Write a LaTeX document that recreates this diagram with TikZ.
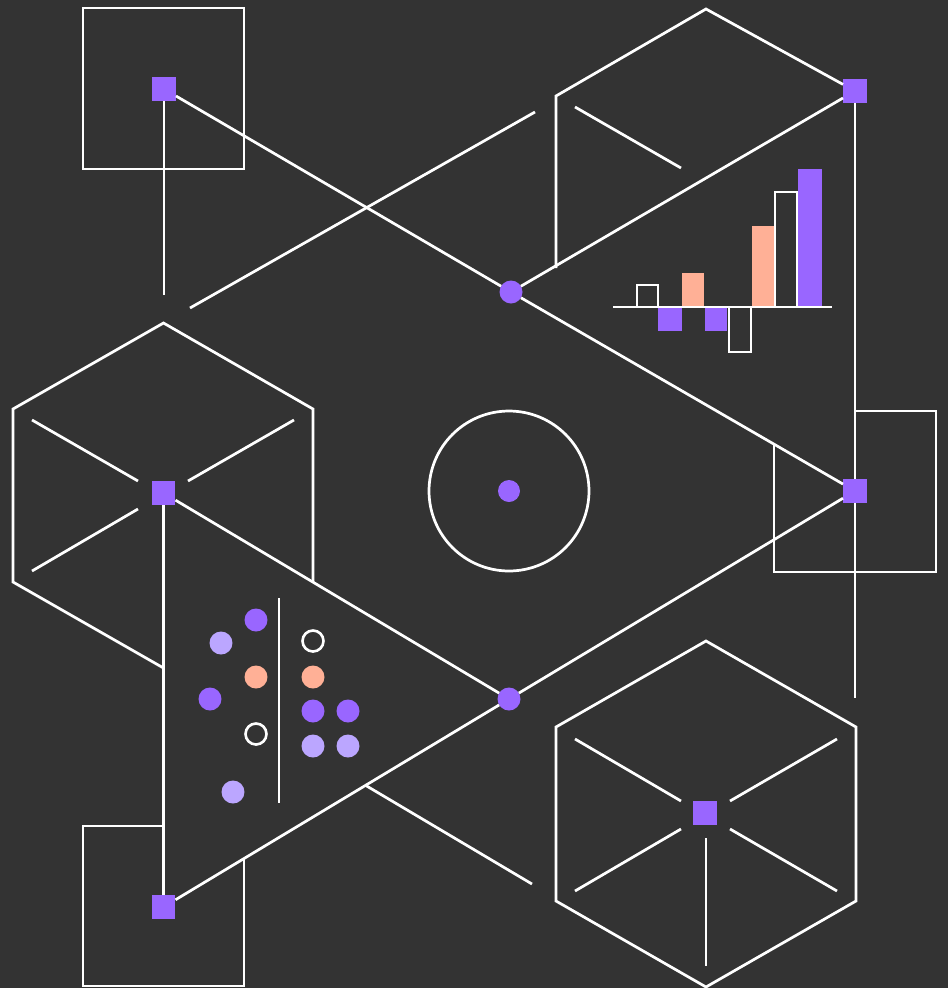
\documentclass[tikz,border=0pt]{standalone}
\definecolor{bg}{HTML}{333333}
\definecolor{pur}{HTML}{9966FF}
\definecolor{lpur}{HTML}{BBA6FF}
\definecolor{peach}{HTML}{FFB096}
\begin{document}
\begin{tikzpicture}[x=0.02cm,y=-0.02cm,
  ln/.style={draw=white,line width=1.55pt},
  sq/.style={rectangle,fill=pur,minimum size=0.48cm,inner sep=0pt,outer sep=0pt},
  dot/.style={circle,fill=pur,minimum size=0.46cm,inner sep=0pt,outer sep=0pt},
  pdot/.style={circle,fill=pur,minimum size=0.46cm,inner sep=0pt},
  ldot/.style={circle,fill=lpur,minimum size=0.46cm,inner sep=0pt},
  kdot/.style={circle,fill=peach,minimum size=0.46cm,inner sep=0pt},
  odot/.style={circle,draw=white,line width=1.5pt,minimum size=0.42cm,inner sep=0pt},
  bar/.style={draw=white,line width=1.5pt}]
\fill[bg] (0,0) rectangle (948,988);
\useasboundingbox (0,0) rectangle (948,988);

% hexagons and frames
\draw[ln,line join=miter] (313,582) -- (313,409) -- (163.5,323) -- (13,409) -- (13,582) -- (163.5,668);
\draw[ln] (32,420) -- (138,481);
\draw[ln] (294,420) -- (188,481);
\draw[ln] (138,509) -- (32,571);
\draw[ln] (706,641) -- (856,727) -- (856,901) -- (706,987) -- (556,901) -- (556,727) -- cycle;
\draw[ln] (575,739) -- (681,801);
\draw[ln] (837,739) -- (730,801);
\draw[ln] (681,829) -- (575,891);
\draw[ln] (730,829) -- (837,891);
\draw[ln] (706,838) -- (706,966);
\draw[ln] (83,8) rectangle (244,169);
\draw[ln] (855,411) -- (936,411) -- (936,572) -- (774,572) -- (774,445);
\draw[ln] (163.5,826) -- (83,826) -- (83,986) -- (244,986) -- (244,858);
\draw[ln] (190,308) -- (535,112);
\draw[ln] (575,107) -- (681,168);
\draw[ln] (365,785) -- (532,884);

% nodes
\node[sq] (sTL) at (164,89) {};
\node[sq] (sTR) at (855,91) {};
\node[sq] (sL) at (163.5,493) {};
\node[sq] (sR) at (855,491) {};
\node[sq] (sBL) at (163.5,907) {};
\node[sq] (sBR) at (705,813) {};
\node[dot] (dT) at (511,292) {};
\node[dot] (dB) at (509,699) {};
\node[dot,minimum size=0.44cm] (dC) at (509,491) {};
\node[circle,draw=white,line width=1.55pt,minimum size=3.2cm,inner sep=0pt] (ring) at (509,491) {};
\coordinate (eTL) at (164,295);
\coordinate (eR) at (855,698);

% connectors
\draw[ln] (556,268) -- (556,96) -- (706,9) -- (sTR);
\draw[ln] (sTL) -- (dT) -- (sR) -- (dB) -- (sBL);
\draw[ln] (dT) -- (sTR);
\draw[ln] (sL) -- (dB);
\draw[ln] (sTL) -- (eTL);
\draw[ln] (sL) -- (sBL);
\draw[ln] (sTR) -- (sR) -- (eR);

% bar chart
\fill[pur] (658,307) rectangle (682,331);
\fill[peach] (682,273) rectangle (704,307);
\fill[pur] (705,307) rectangle (727,331);
\fill[peach] (752,226) rectangle (774,307);
\fill[pur] (798,169) rectangle (822,307);
\draw[bar] (637,307) -- (637,285) -- (658,285) -- (658,307);
\draw[bar] (729,307) -- (729,352) -- (751,352) -- (751,307);
\draw[bar] (775,307) -- (775,192) -- (797,192) -- (797,307);
\draw[ln] (613,307) -- (832,307);

% dot group
\draw[ln] (279,598) -- (279,803);
\node[pdot] (g1) at (256,620) {};
\node[ldot] (g2) at (221,643) {};
\node[kdot] (g3) at (256,677) {};
\node[pdot] (g4) at (210,699) {};
\node[odot] (g5) at (256,734) {};
\node[ldot] (g6) at (233,792) {};
\node[odot] (h1) at (313,641) {};
\node[kdot] (h2) at (313,677) {};
\node[pdot] (h3) at (313,711) {};
\node[pdot] (h4) at (348,711) {};
\node[ldot] (h5) at (313,746) {};
\node[ldot] (h6) at (348,746) {};
\end{tikzpicture}
\end{document}
